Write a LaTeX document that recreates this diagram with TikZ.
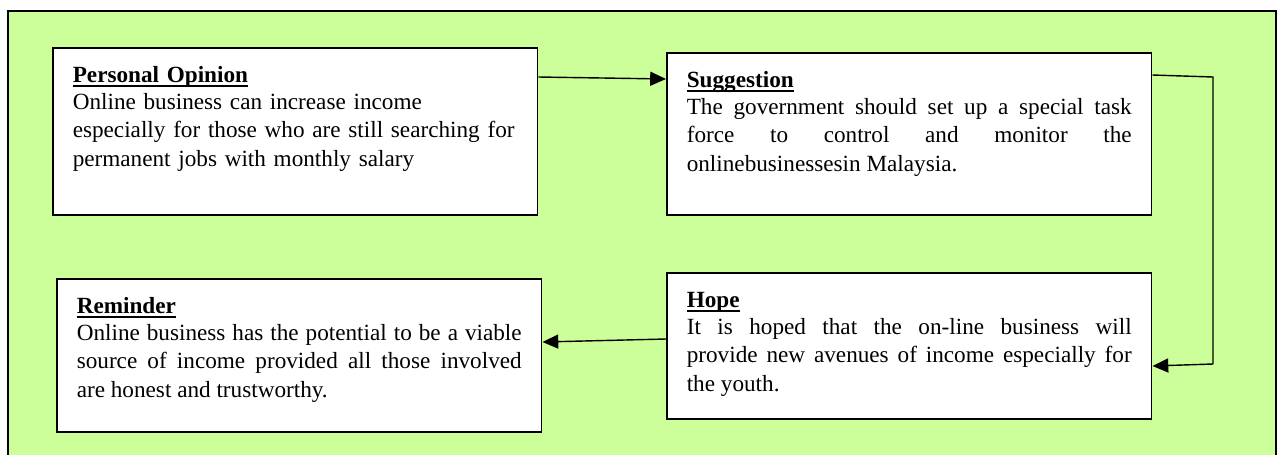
\documentclass[tikz,border=0pt]{standalone}
\usepackage{fontspec}
\setmainfont{Liberation Serif}
\usepackage{tikz}
\usetikzlibrary{arrows.meta,positioning,calc}
\definecolor{panelGreen}{HTML}{CCFF99}

\newsavebox{\titlebox}
\newcommand{\boxtitle}[1]{\sbox{\titlebox}{\textbf{#1}}%
  \rlap{\rule[-2.4pt]{\wd\titlebox}{1.1pt}}\usebox{\titlebox}\\[-1pt]}

\begin{document}
\begin{tikzpicture}[
    x=0.02cm, y=-0.02cm,
    >=Triangle,
    frame/.style={draw=black, line width=1.1pt, fill=panelGreen},
    stage/.style={draw=black, line width=0.9pt, fill=white, anchor=north west,
                  inner xsep=0.4cm, inner ysep=0.3cm, text height=0.4cm,
                  text width=8.9cm, align=justify,
                  font=\fontsize{13.2}{16.2}\selectfont}, % fixed size boxes
    flow/.style={line width=0.8pt,-{Triangle[length=9pt,width=8pt]}},
    link/.style={line width=0.8pt},
]

%-----------------------------------------------------------------------
% background panel
\useasboundingbox (0,0) rectangle (1279,454);
\clip (0,0) rectangle (1279,454);
\draw[frame] (8,11) rectangle (1276,480);

%-----------------------------------------------------------------------
% the four boxes
\node[stage, align=left, text depth=2.34cm] (opinion) at (52,47)
  {\boxtitle{Personal Opinion}Online business can increase income\\
   especially for those who are still searching for\\
   permanent jobs with monthly salary};

\node[stage, text depth=2.24cm] (suggest) at (666,52)
  {\boxtitle{Suggestion}The government should set up a special task\linebreak
   force to control and monitor the\linebreak
   onlinebusinessesin Malaysia.};

\node[stage, text depth=1.92cm] (hope) at (666,272)
  {\boxtitle{Hope}It is hoped that the on-line business will\linebreak
   provide new avenues of income especially for\linebreak
   the youth.};

\node[stage, text depth=2.06cm] (remind) at (56,278)
  {\boxtitle{Reminder}Online business has the potential to be a viable\linebreak
   source of income provided all those involved\linebreak
   are honest and trustworthy.};

%-----------------------------------------------------------------------
% connectors
\coordinate (turnA) at (1213,77);
\coordinate (turnB) at (1213,364);

\draw[flow] ($(opinion.north east)+(0,30)$) -- ($(suggest.north west)+(0,27)$);
\draw[link] ($(suggest.north east)+(0,23)$) -- (turnA) -- (turnB);
\draw[flow] (turnB) -- ($(hope.north east)+(0,94)$);
\draw[flow] ($(hope.north west)+(0,67)$) -- ($(remind.north east)+(0,64)$);

\end{tikzpicture}
\end{document}
